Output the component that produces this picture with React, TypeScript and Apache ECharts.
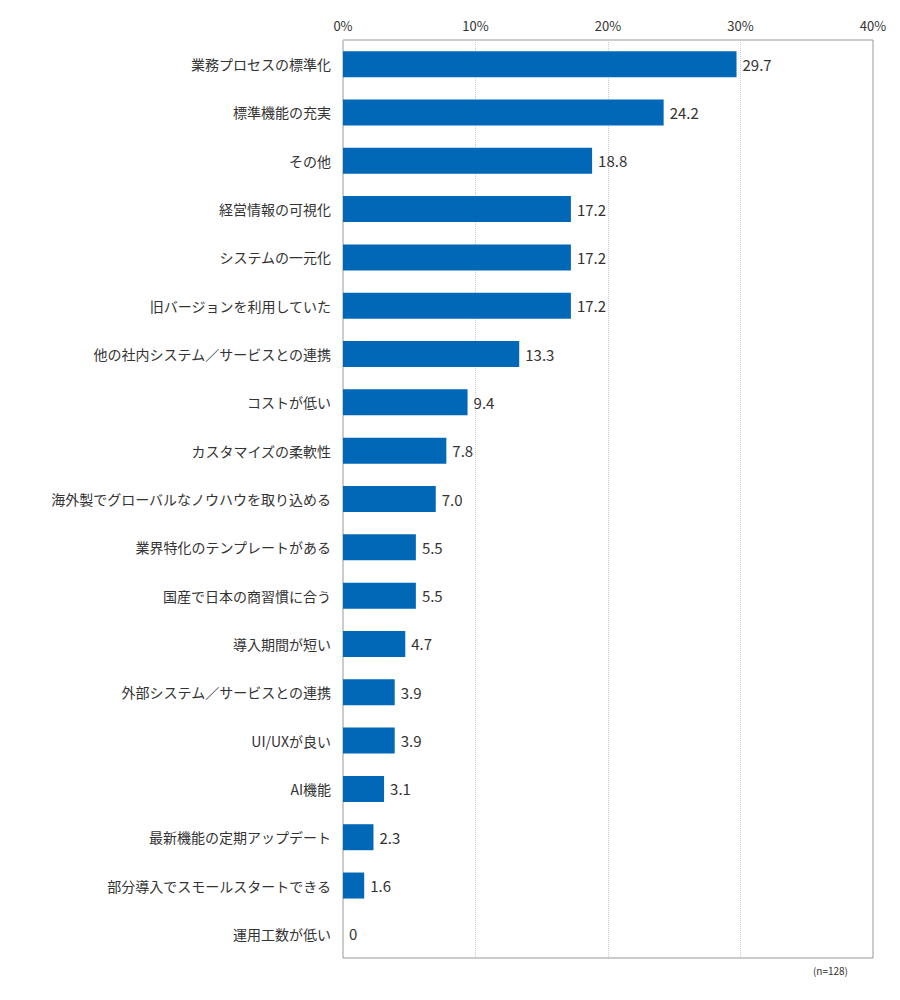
import { useEffect, useRef } from 'react';
import * as echarts from 'echarts';

const categories = [
  '業務プロセスの標準化',
  '標準機能の充実',
  'その他',
  '経営情報の可視化',
  'システムの一元化',
  '旧バージョンを利用していた',
  '他の社内システム／サービスとの連携',
  'コストが低い',
  'カスタマイズの柔軟性',
  '海外製でグローバルなノウハウを取り込める',
  '業界特化のテンプレートがある',
  '国産で日本の商習慣に合う',
  '導入期間が短い',
  '外部システム／サービスとの連携',
  'UI/UXが良い',
  'AI機能',
  '最新機能の定期アップデート',
  '部分導入でスモールスタートできる',
  '運用工数が低い'
];

const values = [29.7, 24.2, 18.8, 17.2, 17.2, 17.2, 13.3, 9.4, 7.8, 7.0, 5.5, 5.5, 4.7, 3.9, 3.9, 3.1, 2.3, 1.6, 0];

const FONT = '"Noto Sans CJK JP", "Noto Sans", sans-serif';

export default function App() {
  const chartRef = useRef<HTMLDivElement>(null);

  useEffect(() => {
    if (!chartRef.current) return;
    const chart = echarts.init(chartRef.current, undefined, { renderer: 'svg' });

    const options: echarts.EChartsOption = {
      animation: false,
      textStyle: { fontFamily: FONT },
      grid: {
        left: 343,
        right: 27,
        top: 40,
        bottom: 42,
        show: true,
        borderColor: '#999',
        borderWidth: 1
      },
      xAxis: {
        type: 'value',
        position: 'top',
        min: 0,
        max: 40,
        interval: 10,
        axisLine: { show: false },
        axisTick: { show: false },
        axisLabel: { formatter: '{value}%', color: '#333', fontSize: 13, margin: 8 },
        splitLine: { show: true, lineStyle: { color: '#ccc', type: 'dotted' } }
      },
      yAxis: {
        type: 'category',
        inverse: true,
        data: categories,
        axisLine: { show: false },
        axisTick: { show: false },
        axisLabel: { color: '#333', fontSize: 14, margin: 12 }
      },
      series: [
        {
          type: 'bar',
          data: values,
          barWidth: 26,
          itemStyle: { color: '#0068b7' },
          label: {
            show: true,
            position: 'right',
            distance: 6,
            color: '#333',
            fontSize: 15,
            formatter: (p: any) => (p.value === 0 ? '0' : Number(p.value).toFixed(1))
          }
        }
      ],
      graphic: [
        {
          type: 'text',
          right: 52,
          top: 965,
          style: { text: '(n=128)', fill: '#333', fontSize: 10, fontFamily: FONT }
        }
      ]
    };

    chart.setOption(options);
    return () => chart.dispose();
  }, []);

  return (
    <div
      ref={chartRef}
      style={{ position: 'fixed', left: 0, top: 0, width: 900, height: 1000, background: '#fff' }}
    />
  );
}
